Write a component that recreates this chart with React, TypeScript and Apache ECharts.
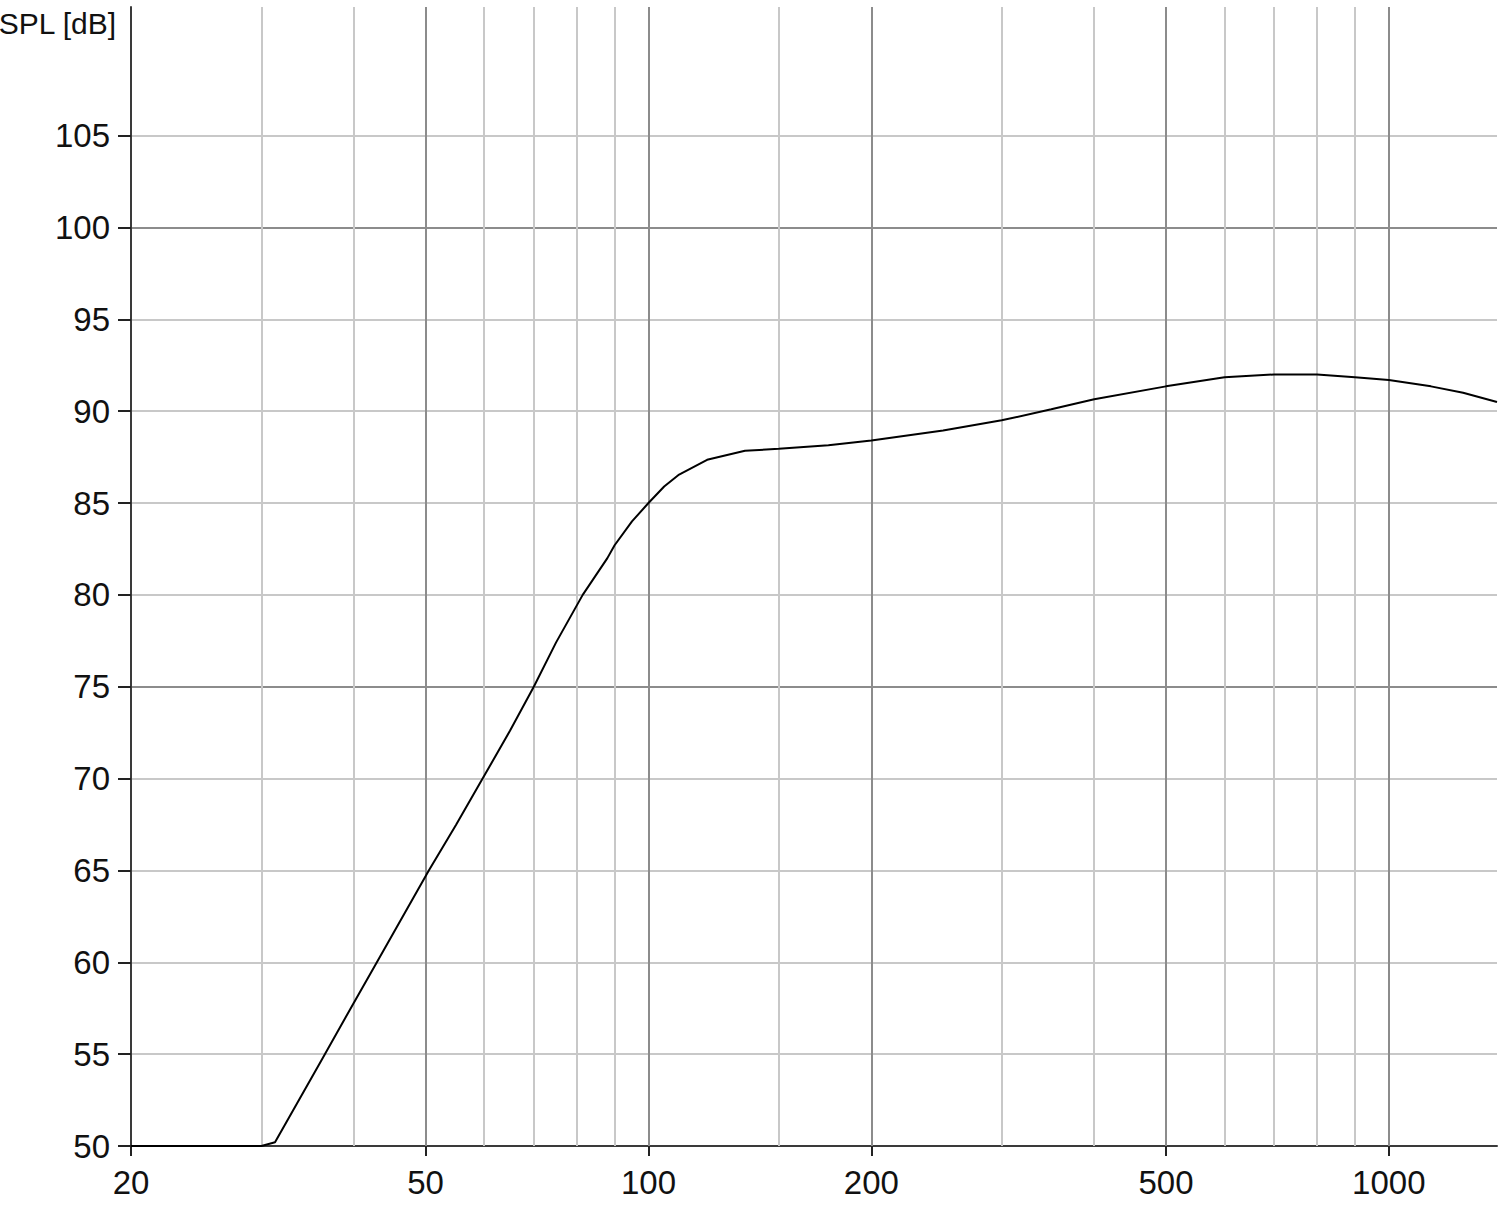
import React, { useEffect, useRef } from "react";
import * as echarts from "echarts";

const FREQ_HZ = [20, 30, 31.3, 36.2, 40, 43.1, 50.5, 55, 59.7, 65, 70, 75, 81.5, 88, 90, 95, 100, 105, 110, 120, 135, 150, 175, 200, 250, 300, 350, 400, 500, 600, 700, 800, 900, 1000, 1140, 1260, 1400];
const SPL_DB = [50, 50, 50.2, 54.7, 57.8, 60.1, 65, 67.5, 70, 72.6, 75, 77.4, 80, 82, 82.7, 84, 85, 85.9, 86.55, 87.35, 87.85, 87.95, 88.15, 88.4, 88.95, 89.5, 90.1, 90.65, 91.35, 91.85, 92.0, 92.0, 91.85, 91.7, 91.35, 91.0, 90.5];

const X_TICKS = [20, 50, 100, 200, 500, 1000];
const X_MAJOR_GRID = [50, 100, 200, 500, 1000];
const X_MINOR_GRID = [30, 40, 60, 70, 80, 90, 150, 300, 400, 600, 700, 800, 900];
const Y_TICKS = [50, 55, 60, 65, 70, 75, 80, 85, 90, 95, 100, 105];

const X_MIN = 20;
const X_MAX = 1400;
const Y_MIN = 50;
const Y_MAX = 112;
const Y_TITLE = "SPL [dB]";

const FONT = "Liberation Sans, Arial, sans-serif";
const MINOR = "#c8c8c8";
const MAJOR = "#8c8c8c";
const AXIS = "#3a3a3a";

export default function App() {
  const ref = useRef<HTMLDivElement>(null);

  useEffect(() => {
    if (!ref.current) return;
    const chart = echarts.init(ref.current, null, { renderer: "svg" });

    const gridMarks = [
      ...X_MINOR_GRID.map((v) => ({ xAxis: v, lineStyle: { color: MINOR, width: 2, type: "solid" } })),
      ...X_MAJOR_GRID.map((v) => ({ xAxis: v, lineStyle: { color: MAJOR, width: 2, type: "solid" } })),
    ];

    const yColors = [MAJOR, MINOR, MINOR, MINOR, MINOR];

    chart.setOption({
      animation: false,
      backgroundColor: "#ffffff",
      grid: { left: 131, right: 3, top: 7, bottom: 69, containLabel: false },
      xAxis: {
        type: "log",
        logBase: 10,
        min: X_MIN,
        max: X_MAX,
        axisLine: { show: true, onZero: false, lineStyle: { color: AXIS, width: 2 } },
        axisTick: { show: true, customValues: X_TICKS, length: 10, inside: false, lineStyle: { color: "#222", width: 2 } },
        axisLabel: {
          show: true,
          customValues: X_TICKS,
          margin: 20,
          fontSize: 33,
          fontFamily: FONT,
          color: "#111",
          formatter: (v: number) => String(Math.round(v)),
        },
        splitLine: { show: false },
        minorTick: { show: false },
        minorSplitLine: { show: false },
      },
      yAxis: {
        type: "value",
        min: Y_MIN,
        max: Y_MAX,
        interval: 1,
        axisLine: { show: true, onZero: false, lineStyle: { color: AXIS, width: 2 } },
        axisTick: { show: true, customValues: Y_TICKS, length: 13, lineStyle: { color: "#222", width: 2 } },
        axisLabel: {
          show: true,
          customValues: Y_TICKS,
          margin: 21,
          fontSize: 33,
          fontFamily: FONT,
          color: "#111",
        },
        splitLine: { show: true, lineStyle: { color: yColors, width: 2 } },
      },
      graphic: [
        {
          type: "text",
          x: 116,
          y: 8,
          style: {
            text: Y_TITLE,
            fontSize: 30,
            fontFamily: FONT,
            fill: "#111",
            align: "right",
            verticalAlign: "top",
          },
        },
      ],
      series: [
        {
          name: "grid",
          type: "line",
          z: 1,
          silent: true,
          showSymbol: false,
          data: [[X_MIN, Y_MIN]],
          lineStyle: { opacity: 0 },
          markLine: {
            silent: true,
            symbol: ["none", "none"],
            label: { show: false },
            animation: false,
            data: gridMarks,
          },
        },
        {
          name: "SPL",
          type: "line",
          z: 5,
          showSymbol: false,
          symbol: "none",
          smooth: false,
          data: FREQ_HZ.map((f, i) => [f, SPL_DB[i]]),
          lineStyle: { color: "#000", width: 2 },
        },
      ],
    });

    return () => chart.dispose();
  }, []);

  return (
    <div
      ref={ref}
      style={{ position: "absolute", left: 0, top: 0, width: 1500, height: 1215, background: "#fff" }}
    />
  );
}
